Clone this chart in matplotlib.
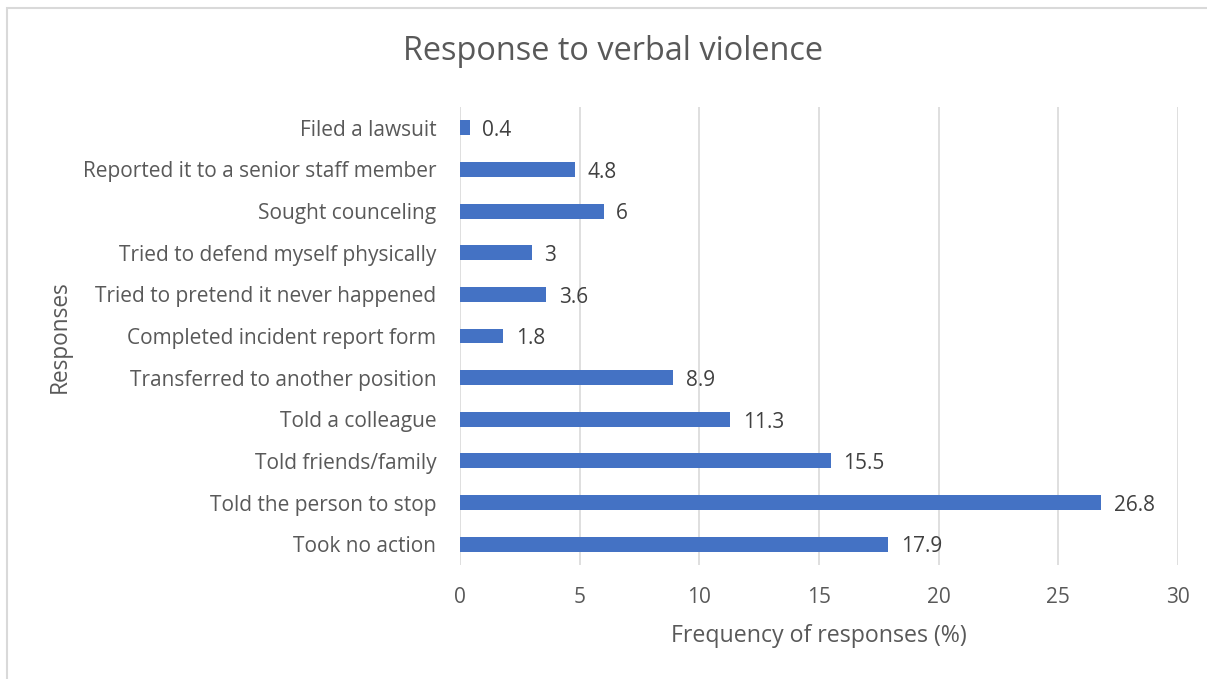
import matplotlib.pyplot as plt
from matplotlib.patches import Rectangle

# responses listed bottom to top
responses = [
    "Took no action",
    "Told the person to stop",
    "Told friends/family",
    "Told a colleague",
    "Transferred to another position",
    "Completed incident report form",
    "Tried to pretend it never happened",
    "Tried to defend myself physically",
    "Sought counceling",
    "Reported it to a senior staff member",
    "Filed a lawsuit",
]
frequency = [17.9, 26.8, 15.5, 11.3, 8.9, 1.8, 3.6, 3, 6, 4.8, 0.4]
value_labels = ["17.9", "26.8", "15.5", "11.3", "8.9", "1.8", "3.6", "3", "6", "4.8", "0.4"]
x_ticks = [0, 5, 10, 15, 20, 25, 30]

text_color = "#595959"
bar_color = "#4472C4"
grid_color = "#D9D9D9"

plt.rcParams['font.family'] = ['Open Sans', 'DejaVu Sans']

fig = plt.figure(figsize=(12.07, 6.79), dpi=100)
W, H = 1207, 679

# chart frame (only the left and top edges fall inside the image)
fig.patches.append(Rectangle((7 / W, -0.1), 1.2, 1 - 8 / H + 0.1,
                             transform=fig.transFigure, fill=False,
                             edgecolor=grid_color, linewidth=1.5))

ax = fig.add_axes([460 / W, 1 - 565 / H, 718 / W, 458 / H])

y = list(range(len(responses)))
ax.barh(y, frequency, height=0.36, color=bar_color, zorder=3)

for yi, v, lab in zip(y, frequency, value_labels):
    ax.annotate(lab, xy=(v, yi), xytext=(9, -2), textcoords="offset points",
                ha="left", va="center", fontsize=15, color="#404040")

ax.set_xlim(0, 30)
ax.set_ylim(-0.5, len(responses) - 0.5)
ax.set_xticks(x_ticks)
ax.set_yticks(y)
ax.set_yticklabels(responses)
ax.tick_params(axis="both", length=0, labelsize=15, colors=text_color)
ax.tick_params(axis="x", pad=16)
ax.tick_params(axis="y", pad=17)
ax.grid(axis="x", color=grid_color, linewidth=1.2, zorder=0)
for s in ax.spines.values():
    s.set_visible(False)

ax.set_xlabel("Frequency of responses (%)", fontsize=16.7, color=text_color, labelpad=11)
fig.text(60 / W, 1 - 337 / H, "Responses", rotation=90, fontsize=16.3,
         color=text_color, ha="center", va="center")
fig.text(613 / W, 1 - 52 / H, "Response to verbal violence", fontsize=23.4,
         color=text_color, ha="center", va="center")

fig.savefig("out.png", dpi=100)
